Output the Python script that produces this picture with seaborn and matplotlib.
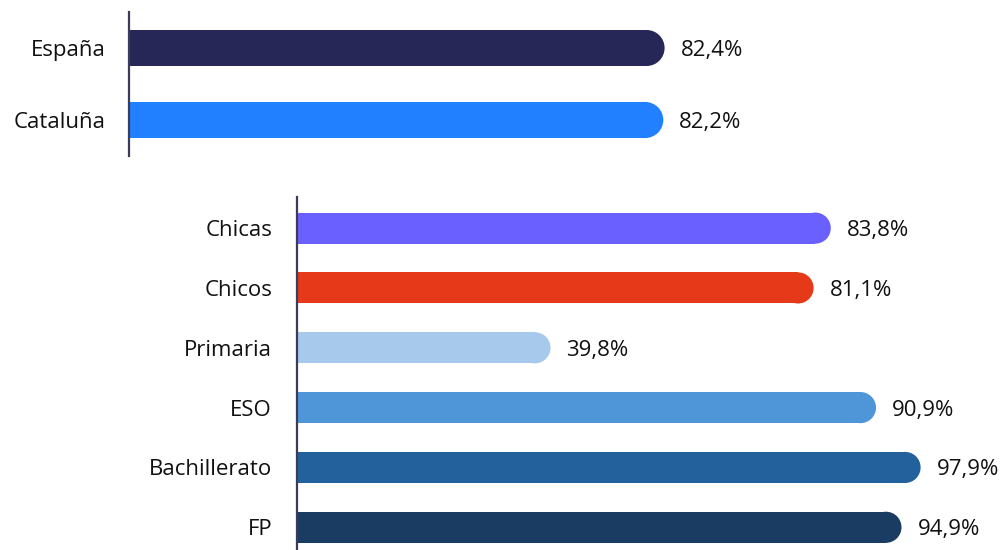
import numpy as np
import pandas as pd
import matplotlib
matplotlib.use('Agg')
import matplotlib.pyplot as plt
import seaborn as sns
from matplotlib.patches import Ellipse

sns.set_style('white')
plt.rcParams['font.family'] = ['Open Sans', 'DejaVu Sans']

# datos
top_labels = ['España', 'Cataluña']
top_values = [82.4, 82.2]
top_colors = ['#262756', '#2180FF']

bottom_labels = ['Chicas', 'Chicos', 'Primaria', 'ESO', 'Bachillerato', 'FP']
bottom_values = [83.8, 81.1, 39.8, 90.9, 97.9, 94.9]
bottom_colors = ['#6A5FFF', '#E6391A', '#A7C9EC', '#4F96D9', '#22619C', '#1A3C62']

W, H = 1005, 550
fig = plt.figure(figsize=(W / 100, H / 100), dpi=100)

def px_axes(left, top, width, height):
    return fig.add_axes([left / W, 1 - (top + height) / H, width / W, height / H])

ax1 = px_axes(129, 12, 650, 144)
ax2 = px_axes(297, 197, 637, 353)


def round_bars(ax, fig):
    # redondear el extremo derecho de cada barra
    fig.canvas.draw()
    tr = ax.transData
    for p in list(ax.patches):
        x0, y0 = p.get_x(), p.get_y()
        w, h = p.get_width(), p.get_height()
        a = tr.transform((0, 0))
        b = tr.transform((1, 1))
        px_x = abs(b[0] - a[0])
        px_y = abs(b[1] - a[1])
        r = (h * px_y / 2) / px_x
        p.set_width(w - r)
        ax.add_patch(Ellipse((x0 + w - r, y0 + h / 2), 2 * r, h,
                             facecolor=p.get_facecolor(), edgecolor='none', linewidth=0))


def panel(ax, labels, values, colors, width, ylim, pad):
    df = pd.DataFrame({'cat': labels, 'val': values})
    sns.barplot(data=df, y='cat', x='val', hue='cat', palette=dict(zip(labels, colors)),
                orient='h', width=width, legend=False, saturation=1, linewidth=0, ax=ax)
    ax.set_xlim(0, 100)
    ax.set_ylim(*ylim)
    ax.set_xlabel('')
    ax.set_ylabel('')
    ax.set_xticks([])
    ax.tick_params(axis='y', length=0, pad=pad, labelsize=16, labelcolor='#111111')
    for s in ['top', 'right', 'bottom']:
        ax.spines[s].set_visible(False)
    ax.spines['left'].set_color('#3b3b5c')
    ax.spines['left'].set_linewidth(1.6)
    ax.patch.set_alpha(0)
    for i, v in enumerate(values):
        ax.annotate(f'{v:.1f}%'.replace('.', ','), (v, i), xytext=(11.5, 0),
                    textcoords='offset points', va='center_baseline', ha='left',
                    fontsize=16, color='#111111')


panel(ax1, top_labels, top_values, top_colors, 0.5, (1.5, -0.5), 17)
panel(ax2, bottom_labels, bottom_values, bottom_colors, 0.52, (5.38, -0.52), 18)

round_bars(ax1, fig)
round_bars(ax2, fig)

fig.savefig('out.png', dpi=100, facecolor='white')
